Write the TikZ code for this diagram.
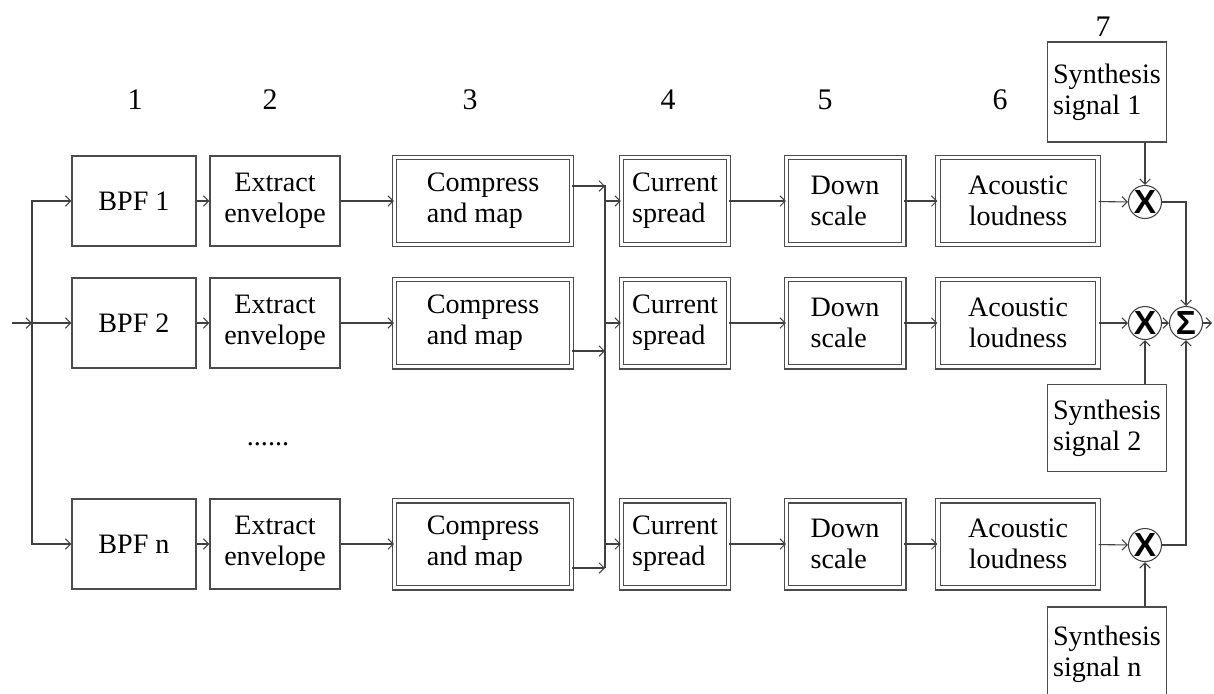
\documentclass[tikz,border=0pt]{standalone}
\usepackage{fontspec}
\setmainfont{Liberation Serif}
\newfontfamily\mixfont{Liberation Sans}
\usetikzlibrary{arrows.meta}

\begin{document}
\begin{tikzpicture}[
  x=0.2mm, y=-0.2mm,
  font=\fontsize{16}{17.5}\selectfont,
  >={Straight Barb[length=3pt,width=6pt]},
  line width=0.6pt,
  wire/.style={->, draw=black!75},
  blk/.style={draw=black!70, minimum height=18mm, inner sep=0pt},
  dblk/.style={blk, double, double distance=2.2pt, minimum height=17.4mm},
  bpf/.style={blk, minimum width=24.8mm},
  env/.style={blk, minimum width=26mm, align=center},
  cmp/.style={dblk, minimum width=35.4mm, align=left},
  cur/.style={dblk, minimum width=21.4mm, align=left},
  dsc/.style={dblk, minimum width=23.4mm, align=left},
  loud/.style={dblk, minimum width=32mm, align=center},
  syn/.style={blk, minimum width=23.8mm, align=left},
  mix/.style={draw=black!75, circle, minimum size=6.6mm, inner sep=0pt, font=\mixfont\bfseries\fontsize{19}{19}\selectfont},
  num/.style={font=\fontsize{17}{19}\selectfont}
]
  \clip (0,0) rectangle (1214,693);

  % stage numbers
  \node[num] (n1) at (135,100) {1};
  \node[num] (n2) at (270,100) {2};
  \node[num] (n3) at (470,100) {3};
  \node[num] (n4) at (668,100) {4};
  \node[num] (n5) at (825,100) {5};
  \node[num] (n6) at (1000,100) {6};
  \node[num] (n7) at (1103,27) {7};

  % channel 1
  \node[bpf] (bpf1) at (134,201) {BPF 1};
  \node[env] (env1) at (275,201) {Extract\\envelope};
  \node[cmp] (cmp1) at (483,201) {Compress\\and map};
  \node[cur] (cur1) at (675,201) {Current\\spread};
  \node[dsc] (dsc1) at (845,201) {Down\\scale};
  \node[loud] (loud1) at (1018,201) {Acoustic\\loudness};

  % channel 2
  \node[bpf] (bpf2) at (134,323) {BPF 2};
  \node[env] (env2) at (275,323) {Extract\\envelope};
  \node[cmp] (cmp2) at (483,323) {Compress\\and map};
  \node[cur] (cur2) at (675,323) {Current\\spread};
  \node[dsc] (dsc2) at (845,323) {Down\\scale};
  \node[loud] (loud2) at (1018,323) {Acoustic\\loudness};

  \node (dots) at (268,444) {......};

  % channel n
  \node[bpf] (bpfn) at (134,544) {BPF n};
  \node[env] (envn) at (275,544) {Extract\\envelope};
  \node[cmp] (cmpn) at (483,544) {Compress\\and map};
  \node[cur] (curn) at (675,544) {Current\\spread};
  \node[dsc] (dscn) at (845,544) {Down\\scale};
  \node[loud] (loudn) at (1018,544) {Acoustic\\loudness};

  % synthesis and summation
  \node[mix] (mul1) at (1145,202) {X};
  \node[mix] (mul2) at (1145,323) {X};
  \node[mix] (muln) at (1145,545) {X};
  \node[mix] (sum) at (1186,323) {Σ};
  \node[syn, minimum height=20mm] (syn1) at (1107,92) {Synthesis\\signal 1};
  \node[syn, minimum height=17.4mm] (syn2) at (1107,428) {Synthesis\\signal 2};
  \node[syn, minimum height=18.8mm] (synn) at (1107,654) {Synthesis\\signal n};

  % input fan-out
  \coordinate (in) at (12,323);
  \coordinate (fork) at (32,323);
  \draw[wire] (in) -- (fork);
  \draw[wire] (fork) -- (bpf2);
  \draw[wire] (fork) |- (bpf1);
  \draw[wire] (fork) |- (bpfn);

  \draw[wire] (bpf1) -- (env1);
  \draw[wire] (bpf2) -- (env2);
  \draw[wire] (bpfn) -- (envn);
  \draw[wire] (env1) -- (cmp1);
  \draw[wire] (env2) -- (cmp2);
  \draw[wire] (envn) -- (cmpn);

  % shared bus between stages 3 and 4
  \coordinate (out1) at ([yshift=3mm]cmp1.east);
  \coordinate (out2) at ([yshift=-5.6mm]cmp2.east);
  \coordinate (outn) at ([yshift=-4.8mm]cmpn.east);
  \coordinate (bustop) at (605,185);
  \coordinate (busbot) at (605,568);
  \draw[draw=black!75] (bustop) -- (busbot);
  \draw[wire] (out1) -- (out1 -| bustop);
  \draw[wire] (out2) -- (out2 -| bustop);
  \draw[wire] (outn) -- (outn -| bustop);
  \draw[wire] (bustop |- cur1) -- (cur1);
  \draw[wire] (bustop |- cur2) -- (cur2);
  \draw[wire] (bustop |- curn) -- (curn);

  \draw[wire] (cur1) -- (dsc1);
  \draw[wire] (cur2) -- (dsc2);
  \draw[wire] (curn) -- (dscn);
  \draw[wire] (dsc1) -- (loud1);
  \draw[wire] (dsc2) -- (loud2);
  \draw[wire] (dscn) -- (loudn);
  \draw[wire] (loud1) -- (mul1);
  \draw[wire] (loud2) -- (mul2);
  \draw[wire] (loudn) -- (muln);

  \draw[wire] (syn1.south -| mul1) -- (mul1);
  \draw[wire] (syn2.north -| mul2) -- (mul2);
  \draw[wire] (synn.north -| muln) -- (muln);

  \draw[wire] (mul1) -| (sum);
  \draw[wire] (mul2) -- (sum);
  \draw[wire] (muln) -| (sum);
  \coordinate (out) at (1212,323);
  \draw[wire] (sum) -- (out);
\end{tikzpicture}
\end{document}
